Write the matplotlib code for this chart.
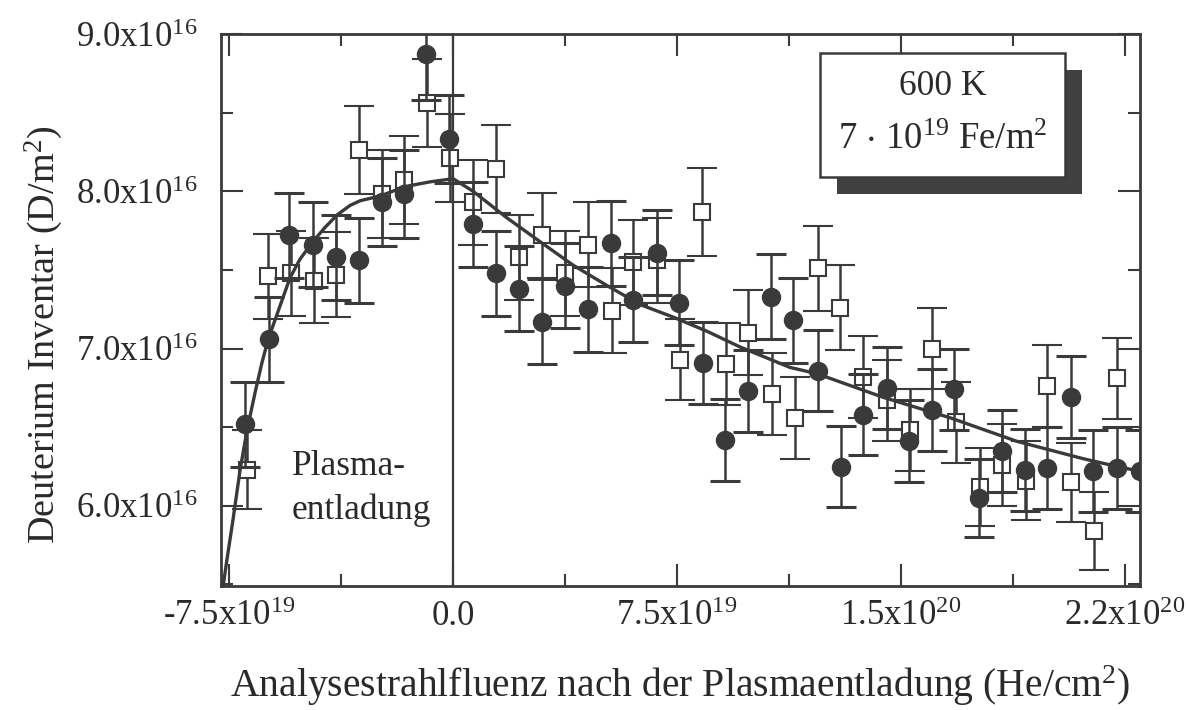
import matplotlib
matplotlib.use('Agg')
import matplotlib.pyplot as plt
from matplotlib.patches import Rectangle

plt.rcParams['font.family'] = ['Liberation Serif', 'DejaVu Serif']
plt.rcParams['mathtext.default'] = 'regular'

# Messwerte (x in 1e19 He/cm^2, y in 1e16 D/m^2)
# gefuellte Kreise
x_kreis = [-6.96, -6.18, -5.48, -4.68, -3.92, -3.15, -2.39, -1.66, -0.90, -0.12,
           0.66, 1.44, 2.22, 2.99, 3.75, 4.51, 5.28, 6.04, 6.82, 7.57,
           8.36, 9.11, 9.89, 10.64, 11.39, 12.21, 12.98, 13.74, 14.52, 15.27,
           16.03, 16.78, 17.62, 18.37, 19.15, 19.88, 20.68, 21.44, 22.22, 23.0]
y_kreis = [6.52, 7.06, 7.72, 7.66, 7.58, 7.56, 7.93, 7.98, 8.87, 8.33,
           7.79, 7.48, 7.38, 7.17, 7.40, 7.25, 7.67, 7.31, 7.61, 7.29,
           6.91, 6.42, 6.73, 7.33, 7.18, 6.86, 6.25, 6.58, 6.75, 6.41,
           6.61, 6.74, 6.05, 6.35, 6.23, 6.24, 6.69, 6.22, 6.24, 6.22]
err_kreis = [0.27, 0.27, 0.27, 0.27, 0.27, 0.27, 0.28, 0.28, 0.29, 0.28,
             0.27, 0.27, 0.27, 0.27, 0.27, 0.27, 0.27, 0.27, 0.27, 0.27,
             0.26, 0.26, 0.26, 0.27, 0.27, 0.26, 0.26, 0.26, 0.26, 0.26,
             0.26, 0.26, 0.25, 0.26, 0.26, 0.26, 0.26, 0.26, 0.26, 0.26]

# offene Quadrate
x_quad = [-6.91, -6.19, -5.43, -4.65, -3.91, -3.15, -2.39, -1.66, -0.87, -0.10,
          0.67, 1.44, 2.22, 2.99, 3.75, 4.51, 5.31, 6.04, 6.82, 7.60,
          8.35, 9.13, 9.89, 10.68, 11.44, 12.21, 12.96, 13.74, 14.52, 15.30,
          16.05, 16.84, 17.64, 18.37, 19.17, 19.88, 20.69, 21.47, 22.22]
y_quad = [6.23, 7.46, 7.48, 7.43, 7.47, 8.26, 7.98, 8.07, 8.56, 8.21,
          7.93, 8.14, 7.58, 7.72, 7.48, 7.66, 7.24, 7.55, 7.56, 6.93,
          7.87, 6.90, 7.10, 6.71, 6.56, 7.51, 7.26, 6.82, 6.67, 6.48,
          7.00, 6.53, 6.12, 6.26, 6.16, 6.76, 6.15, 5.84, 6.81]
err_quad = [0.25, 0.27, 0.27, 0.27, 0.27, 0.28, 0.28, 0.28, 0.28, 0.28,
            0.27, 0.28, 0.27, 0.27, 0.27, 0.27, 0.27, 0.27, 0.27, 0.26,
            0.28, 0.26, 0.27, 0.26, 0.26, 0.27, 0.27, 0.26, 0.26, 0.26,
            0.26, 0.26, 0.25, 0.26, 0.25, 0.26, 0.25, 0.25, 0.26]

# Anpassungskurve
x_fit = [-7.70, -7.57, -7.37, -7.13, -6.90, -6.63, -6.40, -6.19, -5.89, -5.46,
         -5.12, -4.69, -4.29, -3.88, -3.45, -3.11, -2.44, -1.61, -0.77, 0.0,
         0.67, 1.81, 2.91, 4.02, 5.16, 6.26, 7.37, 8.50, 9.61, 11.28,
         12.19, 14.40, 16.64, 18.88, 21.09, 22.23, 23.0]
y_fit = [5.49, 5.66, 5.91, 6.23, 6.48, 6.72, 6.91, 7.06, 7.22, 7.45,
         7.57, 7.68, 7.77, 7.85, 7.91, 7.94, 7.97, 8.03, 8.06, 8.08,
         8.00, 7.83, 7.68, 7.53, 7.40, 7.28, 7.20, 7.11, 7.01, 6.88,
         6.84, 6.69, 6.56, 6.41, 6.30, 6.25, 6.22]

x_ticks = [-7.5, 0.0, 7.5, 15.0, 22.5]
x_minor = [-3.75, 3.75, 11.25, 18.75]
x_ticklabels = ['-7.5x10$^{19}$', '0.0', '7.5x10$^{19}$', '1.5x10$^{20}$', '2.2x10$^{20}$']
y_ticks = [6.0, 7.0, 8.0, 9.0]
y_minor = [5.5, 6.5, 7.5, 8.5]
y_ticklabels = ['6.0x10$^{16}$', '7.0x10$^{16}$', '8.0x10$^{16}$', '9.0x10$^{16}$']

dunkel = '#3a3a3a'
schrift = '#2a2a2a'

fig = plt.figure(figsize=(11.87, 7.10), dpi=100)
ax = fig.add_axes([0.1862, 0.1746, 0.7742, 0.7775])

ax.axvline(0.0, color=dunkel, lw=1.6, zorder=2)

ax.errorbar(x_quad, y_quad, yerr=err_quad, fmt='s', ms=11, mfc='white', mec=dunkel,
            mew=1.5, ecolor=dunkel, elinewidth=1.8, capsize=10.5, capthick=2.2, zorder=3)
ax.plot(x_fit, y_fit, color=dunkel, lw=2.4, zorder=3.5)
ax.errorbar(x_kreis, y_kreis, yerr=err_kreis, fmt='o', ms=13, mfc=dunkel, mec=dunkel,
            ecolor=dunkel, elinewidth=1.8, capsize=10.5, capthick=2.2, zorder=4)

ax.set_xlim(-7.77, 23.0)
ax.set_ylim(5.49, 8.99)
ax.set_xticks(x_ticks)
ax.set_xticklabels(x_ticklabels)
ax.set_xticks(x_minor, minor=True)
ax.set_yticks(y_ticks)
ax.set_yticklabels(y_ticklabels)
ax.set_yticks(y_minor, minor=True)

ax.tick_params(which='both', direction='in', top=True, right=True, width=1.5,
               color=dunkel, labelsize=25, labelcolor=schrift)
ax.tick_params(which='major', length=16)
ax.tick_params(which='minor', length=8.5)
ax.tick_params(axis='x', pad=10)
ax.tick_params(axis='y', pad=17)
for s in ax.spines.values():
    s.set_linewidth(2.0)
    s.set_color(dunkel)

ax.set_xlabel('Analysestrahlfluenz nach der Plasmaentladung (He/cm$^2$)', fontsize=28.5, color=schrift)
ax.set_ylabel('Deuterium Inventar (D/m$^2$)', fontsize=27.5, color=schrift)
ax.xaxis.set_label_coords(0.5, -0.14)
ax.yaxis.set_label_coords(-0.17, 0.455)

ax.text(-5.39, 6.11, 'Plasma-\nentladung', fontsize=25.5, color=schrift,
        ha='left', va='center', linespacing=1.4, zorder=6)

# Kasten mit Schatten
bx, by, bw, bh = 0.652, 0.7415, 0.266, 0.2245
ax.add_patch(Rectangle((bx + 0.0185, by - 0.0308), bw, bh, transform=ax.transAxes,
                       facecolor='#404040', edgecolor='none', zorder=6, clip_on=False))
ax.add_patch(Rectangle((bx, by), bw, bh, transform=ax.transAxes,
                       facecolor='white', edgecolor=dunkel, lw=1.8, zorder=7, clip_on=False))
ax.text(bx + bw / 2, 0.9045, '600 K', transform=ax.transAxes, fontsize=25.5,
        color=schrift, ha='center', va='center', zorder=8)
ax.text(bx + bw / 2, 0.808, '7 $\\cdot$ 10$^{19}$ Fe/m$^2$', transform=ax.transAxes,
        fontsize=26.5, color=schrift, ha='center', va='center', zorder=8)

fig.savefig('out.png', dpi=100)
